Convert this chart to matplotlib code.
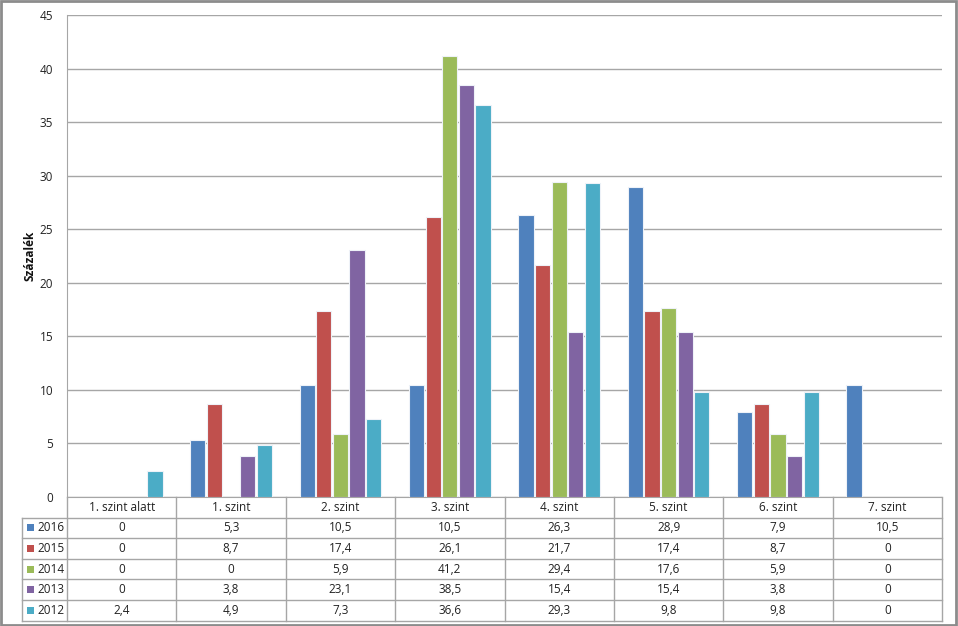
import numpy as np
import matplotlib.pyplot as plt
from matplotlib.transforms import blended_transform_factory
from matplotlib.patches import Rectangle

plt.rcParams['font.family'] = ['Open Sans', 'DejaVu Sans']

categories = ["1. szint alatt", "1. szint", "2. szint", "3. szint",
              "4. szint", "5. szint", "6. szint", "7. szint"]
years = ["2016", "2015", "2014", "2013", "2012"]
v2016 = [0, 5.3, 10.5, 10.5, 26.3, 28.9, 7.9, 10.5]
v2015 = [0, 8.7, 17.4, 26.1, 21.7, 17.4, 8.7, 0]
v2014 = [0, 0, 5.9, 41.2, 29.4, 17.6, 5.9, 0]
v2013 = [0, 3.8, 23.1, 38.5, 15.4, 15.4, 3.8, 0]
v2012 = [2.4, 4.9, 7.3, 36.6, 29.3, 9.8, 9.8, 0]
series = [v2016, v2015, v2014, v2013, v2012]
colors = ["#4F81BD", "#C0504D", "#9BBB59", "#8064A2", "#4BACC6"]

W, H = 958, 626
fig = plt.figure(figsize=(W / 100, H / 100), dpi=100)

def fx(px):
    return px / W

def fy(py):
    return 1 - py / H

ax_l, ax_r, ax_t, ax_b = 67, 942, 15, 497
ax = fig.add_axes([fx(ax_l), fy(ax_b), fx(ax_r - ax_l), (ax_b - ax_t) / H])

x = np.arange(len(categories))
pitch = 0.152
bw = 0.14
for i, (vals, c) in enumerate(zip(series, colors)):
    ax.bar(x + (i - 2) * pitch, vals, width=bw, color=c,
           edgecolor="#eef2f8", linewidth=0.8, zorder=3)

ax.set_xlim(-0.5, len(categories) - 0.5)
ax.set_ylim(0, 45)
ax.set_yticks(np.arange(0, 46, 5))
ax.set_xticks([])
ax.grid(axis="y", color="#a6a6a6", linewidth=1.0, zorder=0)
ax.tick_params(axis="y", length=0, pad=10, labelsize=8.5, colors="#222222")
for s in ["top", "right"]:
    ax.spines[s].set_visible(False)
for s in ["left", "bottom"]:
    ax.spines[s].set_color("#a6a6a6")
fig.text(fx(30), fy((ax_t + ax_b) / 2), "Százalék", rotation=90, ha="center",
         va="center", fontsize=8.5, fontweight="bold", color="#111111")

# data table under the plot
tr = blended_transform_factory(ax.transData, fig.transFigure)
row_h = 20.6
top = ax_b
n_rows = len(years) + 1
bottom = top + n_rows * row_h
lc = "#a6a6a6"
tbl_left = 22

# horizontal lines
for r in range(1, n_rows + 1):
    y = fy(top + r * row_h)
    fig.add_artist(plt.Line2D([fx(tbl_left), fx(ax_r)], [y, y], color=lc, lw=1.0))
# vertical lines
for k in range(len(categories) + 1):
    fig.add_artist(plt.Line2D([k - 0.5, k - 0.5], [fy(top), fy(bottom)],
                              color=lc, lw=1.0, transform=tr))
fig.add_artist(plt.Line2D([fx(tbl_left), fx(tbl_left)], [fy(top + row_h), fy(bottom)],
                          color=lc, lw=1.0))

# header
for k, cat in enumerate(categories):
    fig.text(k, fy(top + row_h / 2), cat, transform=tr, ha="center", va="center",
             fontsize=8.5, color="#222222")

def fmt(v):
    return str(v).replace(".", ",") if v != int(v) else str(int(v))

for r, (yr, vals, c) in enumerate(zip(years, series, colors)):
    yc = fy(top + (r + 1.5) * row_h)
    fig.add_artist(Rectangle((fx(27), yc - 3.5 / H), 7 / W, 7 / H,
                             facecolor=c, edgecolor="none", transform=fig.transFigure))
    fig.text(fx(37), yc, yr, ha="left", va="center", fontsize=8.5, color="#222222")
    for k, v in enumerate(vals):
        fig.text(k, yc, fmt(v), transform=tr, ha="center", va="center",
                 fontsize=8.5, color="#222222")

# outer frame
fig.add_artist(Rectangle((0.001, 0.002), 0.997, 0.996, facecolor="none",
                         edgecolor="#8c8c8c", lw=2.0, transform=fig.transFigure))

fig.savefig("out.png", dpi=100)
